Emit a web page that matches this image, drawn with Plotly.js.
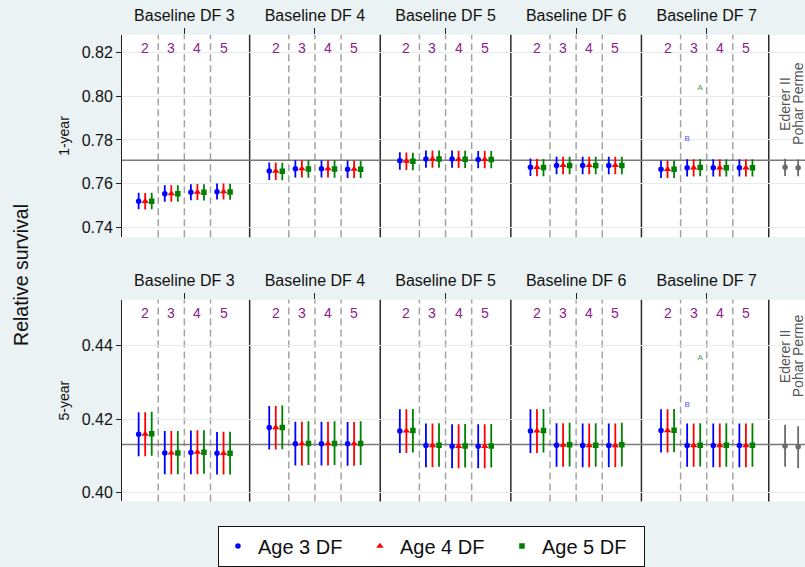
<!DOCTYPE html>
<html><head><meta charset="utf-8">
<script src="https://cdn.plot.ly/plotly-3.0.1.min.js"></script>
<style>html,body{margin:0;padding:0;background:#eaf2f3;} #chart{width:805px;height:567px;}</style>
</head><body><div id="chart"></div>
<script>
// ---------- data ----------
const baselineLabels = ['Baseline DF 3','Baseline DF 4','Baseline DF 5','Baseline DF 6','Baseline DF 7'];
const ageDfLabels = ['2','3','4','5'];
const seriesNames = ['Age 3 DF','Age 4 DF','Age 5 DF'];
const panelTitles = ['1-year','5-year'];
const refMethods = ['Ederer II','Pohar Perme'];

// 1-year relative survival (order: baseline DF 3..7, each with age DF 2..5)
const oneYearAge3   = [0.7521,0.7555,0.7561,0.7564, 0.7658,0.7669,0.7669,0.7667, 0.7705,0.7713,0.7713,0.7711, 0.7676,0.7684,0.7684,0.7684, 0.7666,0.7673,0.7673,0.7673];
const oneYearAge3Lo = [0.7484,0.7518,0.7525,0.7528, 0.7617,0.7629,0.7629,0.7627, 0.7664,0.7673,0.7673,0.7671, 0.7636,0.7644,0.7644,0.7644, 0.7626,0.7633,0.7633,0.7633];
const oneYearAge3Hi = [0.7559,0.7593,0.7598,0.7601, 0.7697,0.7708,0.7708,0.7706, 0.7744,0.7752,0.7752,0.7750, 0.7715,0.7723,0.7723,0.7723, 0.7706,0.7712,0.7712,0.7712];
const oneYearAge4   = [0.7520,0.7555,0.7562,0.7564, 0.7658,0.7669,0.7669,0.7667, 0.7704,0.7713,0.7712,0.7711, 0.7675,0.7684,0.7684,0.7684, 0.7666,0.7673,0.7673,0.7673];
const oneYearAge4Lo = [0.7483,0.7518,0.7526,0.7528, 0.7617,0.7629,0.7629,0.7627, 0.7663,0.7673,0.7672,0.7671, 0.7635,0.7644,0.7644,0.7644, 0.7626,0.7633,0.7633,0.7633];
const oneYearAge4Hi = [0.7558,0.7593,0.7599,0.7601, 0.7697,0.7708,0.7708,0.7706, 0.7743,0.7752,0.7751,0.7750, 0.7714,0.7723,0.7723,0.7723, 0.7706,0.7712,0.7712,0.7712];
const oneYearAge5   = [0.7521,0.7555,0.7561,0.7563, 0.7657,0.7668,0.7668,0.7666, 0.7703,0.7713,0.7712,0.7711, 0.7674,0.7684,0.7684,0.7684, 0.7666,0.7674,0.7673,0.7673];
const oneYearAge5Lo = [0.7484,0.7518,0.7524,0.7527, 0.7616,0.7628,0.7628,0.7626, 0.7662,0.7673,0.7672,0.7671, 0.7634,0.7644,0.7644,0.7644, 0.7626,0.7634,0.7633,0.7633];
const oneYearAge5Hi = [0.7559,0.7593,0.7598,0.7600, 0.7696,0.7707,0.7707,0.7705, 0.7742,0.7752,0.7751,0.7750, 0.7713,0.7723,0.7723,0.7723, 0.7706,0.7713,0.7712,0.7712];

// 5-year relative survival
const fiveYearAge3   = [0.4159,0.4108,0.4109,0.4107, 0.4177,0.4133,0.4133,0.4133, 0.4168,0.4128,0.4126,0.4126, 0.4168,0.4129,0.4128,0.4128, 0.4169,0.4128,0.4128,0.4128];
const fiveYearAge3Lo = [0.4099,0.4050,0.4050,0.4049, 0.4117,0.4074,0.4074,0.4073, 0.4108,0.4069,0.4066,0.4066, 0.4108,0.4070,0.4069,0.4069, 0.4109,0.4070,0.4069,0.4069];
const fiveYearAge3Hi = [0.4219,0.4168,0.4169,0.4165, 0.4236,0.4193,0.4193,0.4192, 0.4227,0.4188,0.4186,0.4186, 0.4227,0.4189,0.4188,0.4188, 0.4227,0.4188,0.4188,0.4188];
const fiveYearAge4   = [0.4159,0.4108,0.4110,0.4107, 0.4177,0.4133,0.4133,0.4133, 0.4168,0.4128,0.4126,0.4126, 0.4168,0.4129,0.4128,0.4128, 0.4169,0.4128,0.4128,0.4128];
const fiveYearAge4Lo = [0.4099,0.4050,0.4050,0.4049, 0.4117,0.4074,0.4074,0.4073, 0.4108,0.4069,0.4066,0.4066, 0.4108,0.4070,0.4069,0.4069, 0.4109,0.4070,0.4069,0.4069];
const fiveYearAge4Hi = [0.4219,0.4168,0.4170,0.4166, 0.4236,0.4193,0.4193,0.4192, 0.4227,0.4188,0.4186,0.4186, 0.4227,0.4189,0.4188,0.4188, 0.4227,0.4188,0.4188,0.4188];
const fiveYearAge5   = [0.4160,0.4108,0.4110,0.4107, 0.4177,0.4134,0.4134,0.4134, 0.4169,0.4129,0.4127,0.4127, 0.4169,0.4130,0.4129,0.4130, 0.4170,0.4129,0.4129,0.4129];
const fiveYearAge5Lo = [0.4100,0.4050,0.4051,0.4049, 0.4118,0.4075,0.4075,0.4075, 0.4109,0.4070,0.4068,0.4068, 0.4109,0.4071,0.4070,0.4071, 0.4110,0.4071,0.4070,0.4070];
const fiveYearAge5Hi = [0.4220,0.4168,0.4170,0.4166, 0.4237,0.4194,0.4194,0.4194, 0.4228,0.4189,0.4187,0.4187, 0.4228,0.4190,0.4189,0.4190, 0.4228,0.4189,0.4189,0.4189];

// reference methods (Ederer II, Pohar Perme)
const oneYearRef   = [0.7676,0.7673];
const oneYearRefLo = [0.7636,0.7634];
const oneYearRefHi = [0.7714,0.7711];
const fiveYearRef   = [0.4127,0.4125];
const fiveYearRefLo = [0.4070,0.4066];
const fiveYearRefHi = [0.4185,0.4181];

// horizontal reference lines
const refLineOneYear = 0.7707;
const refLineFiveYear = 0.4131;

// small letter notes
const noteLabels = ['A','B'];
const noteOneYear = [0.8039, 0.7805];
const noteFiveYear = [0.4366, 0.4239];

const yTicksOneYear = [0.74,0.76,0.78,0.80,0.82];
const yTicksFiveYear = [0.40,0.42,0.44];

// ---------- build ----------
const colors = ['#0000ff','#ff0000','#008000'];
const symbols = ['circle','triangle-up','square'];
const sizes = [5.5,6.5,5.5];
const purple = '#8b1c8b';
const FONT = 'Liberation Sans, Arial, Helvetica, sans-serif';

const panels = [
  {xa:'x', ya:'y', vals:[oneYearAge3,oneYearAge4,oneYearAge5], lo:[oneYearAge3Lo,oneYearAge4Lo,oneYearAge5Lo], hi:[oneYearAge3Hi,oneYearAge4Hi,oneYearAge5Hi],
   ref:oneYearRef, refLo:oneYearRefLo, refHi:oneYearRefHi, refLine:refLineOneYear, notes:noteOneYear, labelY:0.7965},
  {xa:'x2', ya:'y2', vals:[fiveYearAge3,fiveYearAge4,fiveYearAge5], lo:[fiveYearAge3Lo,fiveYearAge4Lo,fiveYearAge5Lo], hi:[fiveYearAge3Hi,fiveYearAge4Hi,fiveYearAge5Hi],
   ref:fiveYearRef, refLo:fiveYearRefLo, refHi:fiveYearRefHi, refLine:refLineFiveYear, notes:noteFiveYear, labelY:0.4372}
];

const G = baselineLabels.length, S = ageDfLabels.length;
const groupW = 20, subW = 4;
const posOf = (i,k) => Math.floor(i/S)*groupW + (i%S)*subW + k;
const refX = [(G-1)*groupW + (S-1)*subW + 2 + 5, (G-1)*groupW + (S-1)*subW + 2 + 7];
const baselineTickPos = baselineLabels.map((_,g)=>g*groupW + ((S-1)*subW+2)/2);

const traces = [];
const shapes = [];
const annotations = [];

panels.forEach((p,pi)=>{
  const yd = p.ya === 'y' ? 'y domain' : 'y2 domain';
  for (let g=0; g<G; g++) {
    for (let s=1; s<S; s++) {
      const xv = g*groupW + s*subW - 1;
      shapes.push({type:'line', xref:p.xa, yref:yd, x0:xv, x1:xv, y0:0, y1:1, layer:'below',
        line:{color:'#a3a3a3', width:1.5, dash:'7px,4px'}});
    }
  }
  const seps = [];
  for (let g=0; g<G-1; g++) seps.push(g*groupW + (S-1)*subW + 2 + 3);
  seps.push(((G-1)*groupW + (S-1)*subW + 2 + refX[0]) / 2);
  seps.forEach(xv=>shapes.push({type:'line', xref:p.xa, yref:yd, x0:xv, x1:xv, y0:0, y1:1, layer:'below',
      line:{color:'#2a2a2a', width:1.5}}));
  shapes.push({type:'line', xref:p.xa + ' domain', yref:p.ya, x0:0, x1:1, y0:p.refLine, y1:p.refLine, layer:'below',
    line:{color:'#7a7a7a', width:1.5}});

  for (let k=0; k<3; k++) {
    const v = p.vals[k];
    traces.push({
      type:'scatter', mode:'markers', xaxis:p.xa, yaxis:p.ya,
      name: seriesNames[k], legendgroup: seriesNames[k], showlegend: pi===0,
      x: v.map((_,i)=>posOf(i,k)), y: v,
      marker:{color:colors[k], symbol:symbols[k], size:sizes[k], line:{width:0}},
      error_y:{type:'data', symmetric:false, array:v.map((y,i)=>p.hi[k][i]-y), arrayminus:v.map((y,i)=>y-p.lo[k][i]),
        color:colors[k], thickness:1.8, width:0},
      hoverinfo:'x+y'
    });
  }
  traces.push({
    type:'scatter', mode:'markers', xaxis:p.xa, yaxis:p.ya, showlegend:false,
    x: refX, y: p.ref,
    marker:{color:'#6a6a6a', symbol:'circle', size:5.5},
    error_y:{type:'data', symmetric:false, array:p.ref.map((y,i)=>p.refHi[i]-y), arrayminus:p.ref.map((y,i)=>y-p.refLo[i]),
      color:'#6a6a6a', thickness:1.8, width:0}
  });
  traces.push({
    type:'scatter', mode:'text', xaxis:p.xa, yaxis:p.ya, showlegend:false,
    x:[(G-1)*groupW + subW + 2, (G-1)*groupW + subW], y:p.notes, text:noteLabels,
    textfont:{size:8, color:['#3aa03a','#5050ff'], family:FONT}, hoverinfo:'skip'
  });

  for (let g=0; g<G; g++) {
    for (let s=0; s<S; s++) {
      annotations.push({xref:p.xa, yref:yd, x:g*groupW + s*subW + 1, y:0.935, text:ageDfLabels[s], showarrow:false,
        font:{size:14, color:purple, family:FONT}, xanchor:'center', yanchor:'middle'});
    }
  }
  refMethods.forEach((m,i)=>{
    annotations.push({xref:p.xa, yref:p.ya, x:refX[i], y:p.labelY, text:m, textangle:-90, showarrow:false,
      font:{size:14, color:'#555555', family:FONT}, xanchor:'center', yanchor:'middle'});
  });
});

annotations.push({xref:'paper', yref:'paper', x:-0.148, y:0.5115, text:'Relative survival', textangle:-90, showarrow:false,
  font:{size:19.5, color:'#111', family:FONT}, xanchor:'center', yanchor:'middle'});

const xBase = {range:[-2.55,102.05], side:'top', tickmode:'array', tickvals:baselineTickPos, ticktext:baselineLabels,
  ticks:'outside', ticklen:6, tickwidth:1, tickcolor:'#222', showgrid:false, zeroline:false, showline:false,
  tickfont:{size:16, color:'#111', family:FONT}, fixedrange:true};
const yBase = {ticks:'outside', ticklen:5, tickwidth:1, tickcolor:'#222', showline:true, linecolor:'#222', linewidth:1,
  showgrid:true, gridcolor:'#e4eced', gridwidth:1, zeroline:false, tickformat:'.2f', tickmode:'array',
  tickfont:{size:16, color:'#111', family:FONT}, fixedrange:true};

const layout = {
  width:805, height:567,
  paper_bgcolor:'#eaf2f3', plot_bgcolor:'#ffffff',
  margin:{l:122, r:0, t:0, b:0},
  font:{family:FONT, color:'#111'},
  xaxis:Object.assign({}, xBase, {domain:[0,1], anchor:'y'}),
  yaxis:Object.assign({}, yBase, {domain:[0.5785,0.9383], range:[0.7356,0.8280], anchor:'x', tickvals:yTicksOneYear,
    title:{text:panelTitles[0], font:{size:14, family:FONT, color:'#111'}, standoff:8}}),
  xaxis2:Object.assign({}, xBase, {domain:[0,1], anchor:'y2'}),
  yaxis2:Object.assign({}, yBase, {domain:[0.1093,0.4674], range:[0.39756,0.45254], anchor:'x2', tickvals:yTicksFiveYear,
    title:{text:panelTitles[1], font:{size:14, family:FONT, color:'#111'}, standoff:8}}),
  showlegend:true,
  legend:{orientation:'h', x:0.1405, xanchor:'left', y:0.0665, yanchor:'top', bgcolor:'#ffffff', bordercolor:'#111', borderwidth:1,
    font:{size:20, color:'#111', family:FONT}, entrywidth:97, entrywidthmode:'pixels', itemsizing:'trace'},
  shapes:shapes, annotations:annotations
};

Plotly.newPlot('chart', traces, layout, {displayModeBar:false, staticPlot:true});
</script>
</body></html>
